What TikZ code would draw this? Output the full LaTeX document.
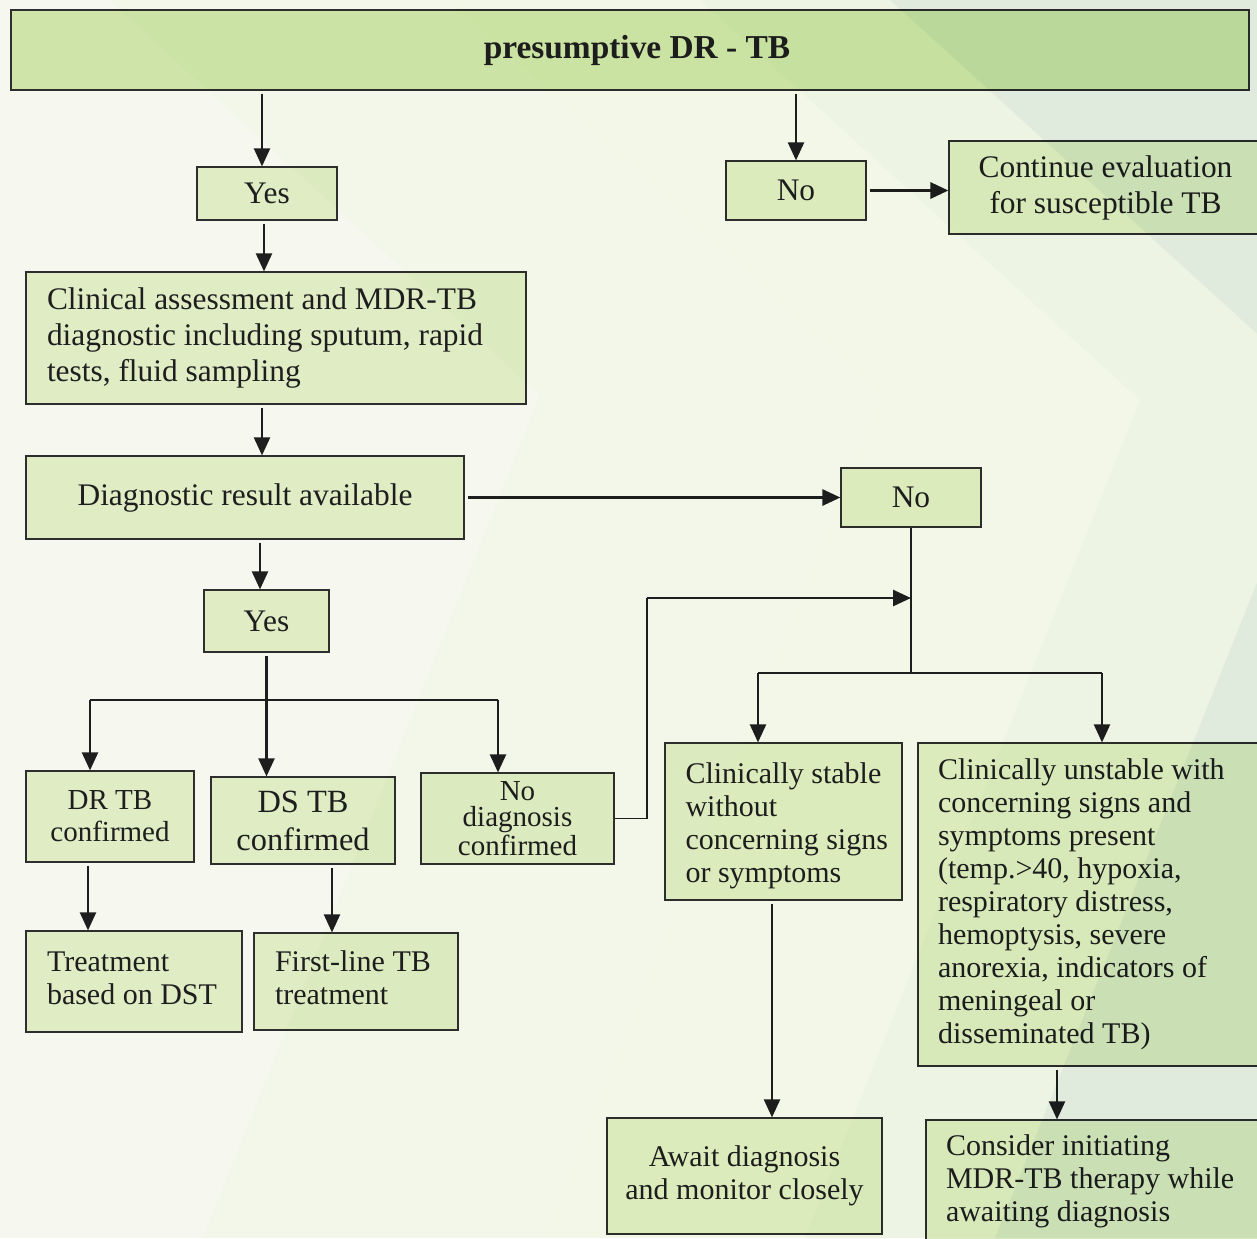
\documentclass[tikz,border=0pt]{standalone}
\usepackage{fontspec}
\setmainfont{Liberation Serif}
\usetikzlibrary{arrows.meta,calc}

\definecolor{bgbase}{HTML}{F6F8F0}
\definecolor{boxfill}{HTML}{DFECC4}
\definecolor{titlefill}{HTML}{CEE4A8}
\definecolor{edgeclr}{HTML}{2E2E2E}
\definecolor{ink}{HTML}{1E1E1E}
\definecolor{shadeA}{HTML}{FCFEF9}
\definecolor{shadeB}{HTML}{FEFFFC}
\definecolor{shadeC}{HTML}{FBFCFB}
\definecolor{shadeD}{HTML}{F1F6FA}

% left-aligned block of lines of fixed width
\newcommand\leftblock[2]{\makebox[#1][l]{\begin{tabular}{@{}l@{}}#2\end{tabular}}}

\tikzset{
  box/.style 2 args={draw=edgeclr, line width=0.6pt, fill=boxfill,
    minimum width=#1pt, minimum height=#2pt, inner sep=0pt, text=ink,
    align=center, font=\fontsize{15.7}{18}\selectfont},
  small/.style={font=\fontsize{15}{16.5}\selectfont},
  arr/.style={draw=ink, line width=1.1pt, -{Triangle[length=9pt,width=8pt]}, shorten <=1.5pt},
  link/.style={draw=ink, line width=0.7pt},
}

\begin{document}
\begin{tikzpicture}[x=0.5pt,y=-0.5pt]
\useasboundingbox (0,0) rectangle (1257,1238);
\fill[bgbase] (0,0) rectangle (1257,1238);

% ---- boxes ----
\node[box={619}{40}, fill=titlefill, font=\bfseries\fontsize{16.7}{18}\selectfont] (title) at (630,50) {\hspace*{7pt}presumptive DR - TB};
\node[box={70}{26.5}] (yes1) at (267,193.5) {Yes};
\node[box={70}{29.5}] (no1) at (796,190.5) {No};
\node[box={156.5}{46.5}] (cont) at (1105.5,187.5) {Continue evaluation\\for susceptible TB};
\node[box={250}{66}] (clin) at (276,338) {\leftblock{229pt}{Clinical assessment and MDR-TB\\diagnostic including sputum, rapid\\tests, fluid sampling}};
\node[box={219}{41.5}] (diag) at (245,497.5) {Diagnostic result available};
\node[box={70}{29.5}] (no2) at (911,497.5) {No};
\node[box={62.5}{31}] (yes2) at (266.5,621) {Yes};
\node[box={84}{45.5}, font=\fontsize{14.5}{16}\selectfont] (drtb) at (110,816.5) {DR TB\\confirmed};
\node[box={92}{43.5}, font=\fontsize{16.2}{19}\selectfont] (dstb) at (303,820.5) {DS TB\\confirmed};
\node[box={96.5}{45.5}, font=\fontsize{14.5}{13}\selectfont] (nodiag) at (517.5,818.5) {No\\diagnosis\\confirmed};
\node[box={108}{50.5}, small] (treat) at (134,981.5) {\leftblock{87pt}{Treatment\\based on DST}};
\node[box={102}{48.5}, small] (first) at (356,981.5) {\leftblock{81pt}{First-line TB\\treatment}};
\node[box={118.5}{78.5}, small] (stable) at (783.5,821.5) {\leftblock{98pt}{\rule{0pt}{16pt}Clinically stable\\without\\concerning signs\\or symptoms}};
\node[box={172}{161.5}, small] (unstable) at (1090,904.5) {\leftblock{152pt}{Clinically unstable with\\concerning signs and\\symptoms present\\(temp.>40, hypoxia,\\respiratory distress,\\hemoptysis, severe\\anorexia, indicators of\\meningeal or\\disseminated TB)}};
\node[box={137.5}{58}, small] (await) at (744.5,1176) {Await diagnosis\\and monitor closely};
\node[box={168}{62}, small] (consider) at (1094,1182) {\leftblock{148pt}{Consider initiating\\MDR-TB therapy while\\awaiting diagnosis}};

% ---- junction points ----
\coordinate (b1) at (90,700);
\coordinate (b2) at (498,700);
\coordinate (t2) at (911,673);
\coordinate (s1) at (758,673);
\coordinate (s2) at (1102,673);
\coordinate (lpA) at (647,818.5);
\coordinate (lpB) at (647,598);
\coordinate (mrg) at (911,598);

% ---- connectors ----
\draw[arr] (title.south -| 262,0) -- (yes1.north -| 262,0);
\draw[arr] (title.south -| no1.north) -- (no1.north);
\draw[arr, line width=1.5pt] (no1.east) -- (no1.east -| cont.west);
\draw[arr] (yes1.south -| 264,0) -- (clin.north -| 264,0);
\draw[arr] (clin.south -| 262,0) -- (diag.north -| 262,0);
\draw[arr, line width=1.4pt] (diag.east) -- (no2.west);
\draw[arr] (diag.south -| 260,0) -- (yes2.north -| 260,0);
\draw[arr] (yes2.south) -- (yes2.south |- dstb.north);
\draw[link] (b1) -- (b2);
\draw[arr, shorten <=0pt] (b1) -- (b1 |- drtb.north);
\draw[arr, shorten <=0pt] (b2) -- (b2 |- nodiag.north);
\draw[arr] (drtb.south -| 88,0) -- (treat.north -| 88,0);
\draw[arr] (dstb.south -| 332,0) -- (first.north -| 332,0);
\draw[link] (no2.south) -- (t2);
\draw[link] (s1) -- (s2);
\draw[arr, shorten <=0pt] (s1) -- (s1 |- stable.north);
\draw[arr, shorten <=0pt] (s2) -- (s2 |- unstable.north);
\draw[link] (nodiag.east) -- (lpA) -- (lpB);
\draw[arr, shorten <=0pt, line width=1.3pt] (lpB) -- (mrg);
\draw[arr] (stable.south -| 772,0) -- (await.north -| 772,0);
\draw[arr] (unstable.south -| 1057,0) -- (consider.north -| 1057,0);

% ---- chevron bands of the backdrop ----
\begin{scope}[blend mode=multiply]
  \fill[shadeA] (110,0) -- (540,395) -- (203,1238) -- (1400,1238) -- (1400,0) -- cycle;
  \fill[shadeB] (450,0) -- (880,395) -- (543,1238) -- (1400,1238) -- (1400,0) -- cycle;
  \fill[shadeC] (700,0) -- (1140,400) -- (805,1238) -- (1400,1238) -- (1400,0) -- cycle;
  \fill[shadeD] (890,0) -- (1330,400) -- (995,1238) -- (1400,1238) -- (1400,0) -- cycle;
\end{scope}
\end{tikzpicture}
\end{document}
